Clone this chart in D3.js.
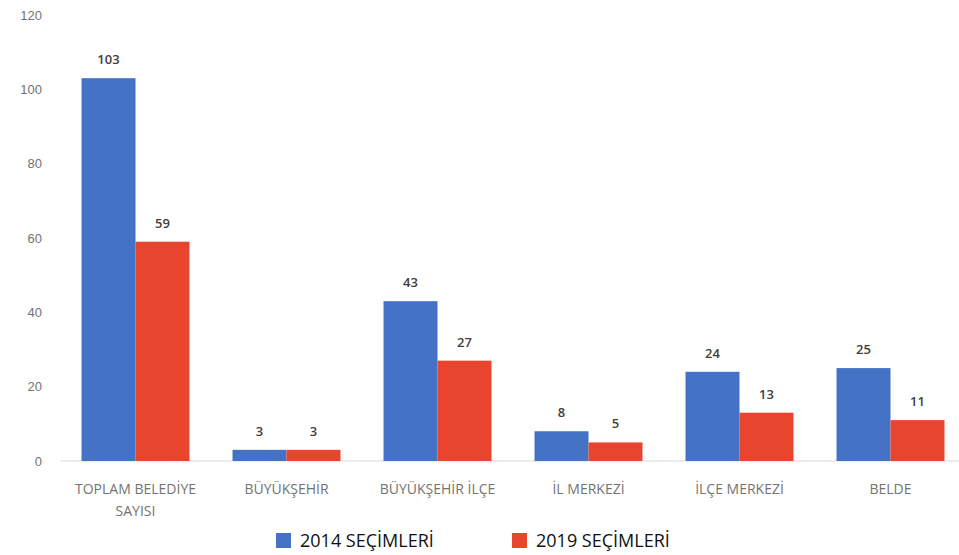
<!DOCTYPE html>
<html>
<head>
<meta charset="utf-8">
<script src="https://cdn.jsdelivr.net/npm/d3@7"></script>
<style>
  body { margin: 0; background: #fff; }
  svg { font-family: "Open Sans", "DejaVu Sans", sans-serif; }
</style>
</head>
<body>
<svg id="chart" width="959" height="555"></svg>
<script>
// categories (two lines where the label wraps)
const categories = [
  ["TOPLAM BELEDİYE", "SAYISI"],
  ["BÜYÜKŞEHİR"],
  ["BÜYÜKŞEHİR İLÇE"],
  ["İL MERKEZİ"],
  ["İLÇE MERKEZİ"],
  ["BELDE"]
];
const series = ["2014 SEÇİMLERİ", "2019 SEÇİMLERİ"];
const values2014 = [103, 3, 43, 8, 24, 25];
const values2019 = [59, 3, 27, 5, 13, 11];
const yTicks = [0, 20, 40, 60, 80, 100, 120];
const colors = ["#4472C4", "#E8452F"];

const svg = d3.select("#chart");

const x = d3.scaleBand()
  .domain(d3.range(categories.length))
  .range([60, 966])
  .paddingInner(0.285)
  .paddingOuter(0.1425);

const xs = d3.scaleBand()
  .domain(d3.range(series.length))
  .range([0, x.bandwidth()]);

const y = d3.scaleLinear()
  .domain([0, 120])
  .range([461, 15]);

// y axis labels only, no line
const yAxis = svg.append("g")
  .attr("transform", "translate(42,0)")
  .call(d3.axisLeft(y).tickValues(yTicks).tickSize(0).tickPadding(0));
yAxis.select(".domain").remove();
yAxis.selectAll("text")
  .attr("fill", "#737373")
  .style("font-size", "13px");

// baseline
svg.append("line")
  .attr("x1", 60).attr("x2", 959)
  .attr("y1", y(0)).attr("y2", y(0))
  .attr("stroke", "#d9d9d9");

const rows = categories.map((c, i) => ({ i, vals: [values2014[i], values2019[i]] }));

const groups = svg.selectAll("g.grp")
  .data(rows)
  .enter()
  .append("g")
  .attr("class", "grp")
  .attr("transform", d => `translate(${x(d.i)},0)`);

const bars = groups.selectAll("g.bar")
  .data(d => d.vals.map((v, s) => ({ v, s })))
  .enter()
  .append("g")
  .attr("class", "bar");

bars.append("rect")
  .attr("x", d => xs(d.s))
  .attr("width", xs.bandwidth())
  .attr("y", d => y(d.v))
  .attr("height", d => y(0) - y(d.v))
  .attr("fill", d => colors[d.s]);

bars.append("text")
  .attr("x", d => xs(d.s) + xs.bandwidth() / 2)
  .attr("y", d => y(d.v) - 14)
  .attr("text-anchor", "middle")
  .attr("fill", "#404040")
  .style("font-size", "13px")
  .style("font-weight", "600")
  .text(d => d.v);

// category labels
const catText = svg.selectAll("text.cat")
  .data(categories)
  .enter()
  .append("text")
  .attr("class", "cat")
  .attr("text-anchor", "middle")
  .attr("fill", "#737373")
  .style("font-size", "14px")
  .attr("transform", (d, i) => `translate(${x(i) + x.bandwidth() / 2},494)`);

catText.selectAll("tspan")
  .data(d => d)
  .enter()
  .append("tspan")
  .attr("x", 0)
  .attr("dy", (d, j) => j === 0 ? 0 : 22)
  .text(d => d);

// legend
const legendX = [276, 512];
const legend = svg.selectAll("g.leg")
  .data(series)
  .enter()
  .append("g")
  .attr("class", "leg")
  .attr("transform", (d, i) => `translate(${legendX[i]},533)`);

legend.append("rect")
  .attr("width", 15).attr("height", 15)
  .attr("fill", (d, i) => colors[i]);

legend.append("text")
  .attr("x", 24)
  .attr("y", 14)
  .attr("fill", "#111")
  .style("font-size", "18px")
  .text(d => d);
</script>
</body>
</html>
